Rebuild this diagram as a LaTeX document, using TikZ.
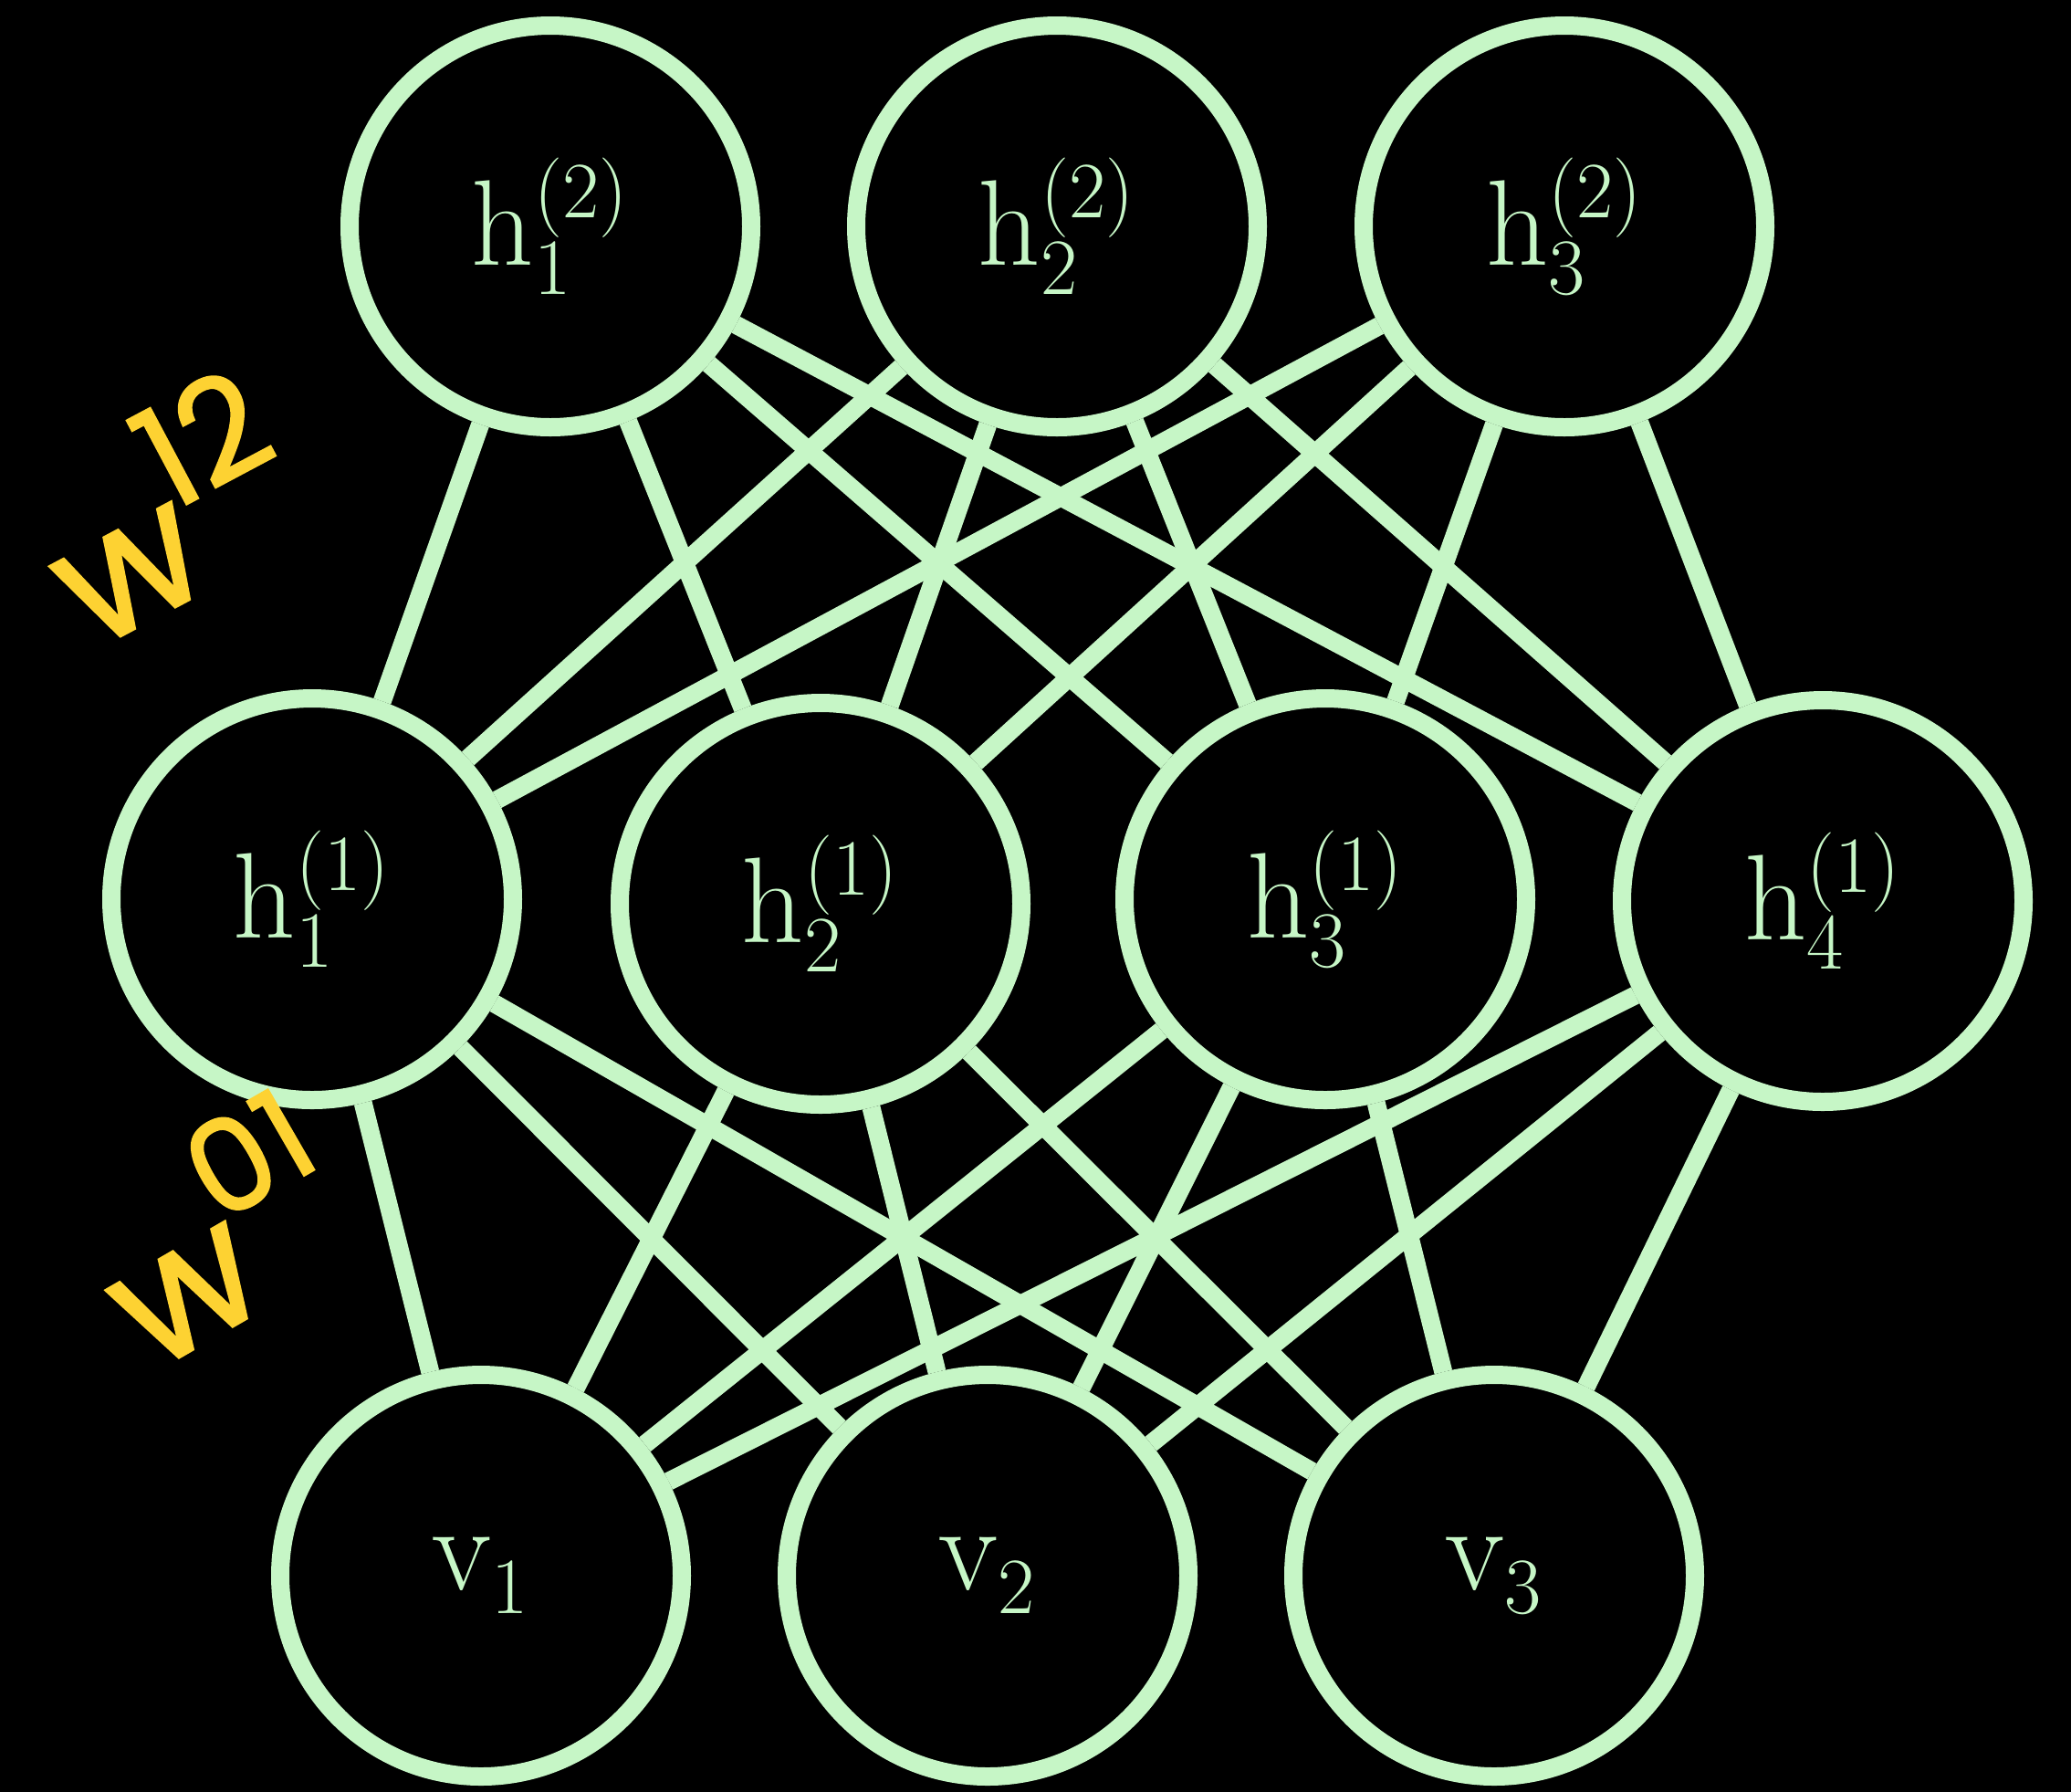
\documentclass[tikz,border=0pt]{standalone}
\usepackage{fontspec}
\newfontfamily\hand[FakeBold=1.5]{Poppins}
\definecolor{nodegreen}{RGB}{198,246,198}
\definecolor{penyellow}{RGB}{253,210,50}
\begin{document}
\begin{tikzpicture}[x=1cm,y=1cm,
  neuron/.style={circle,draw=nodegreen,line width=0.2cm,minimum size=4.4cm,inner sep=0pt,text=nodegreen,font=\fontsize{38}{42}\selectfont},
  link/.style={draw=nodegreen,line width=0.2cm},
  pen/.style={text=penyellow,font=\hand\fontsize{54}{54}\selectfont,inner sep=0pt}]
\useasboundingbox (0,0) rectangle (22.69,-19.62);
\fill[black] (-0.2,0.2) rectangle (22.89,-19.82);
% top layer
\node[neuron] (a1) at (6.03,-2.48) {$\mathrm{h}_1^{(2)}$};
\node[neuron] (a2) at (11.58,-2.48) {$\mathrm{h}_2^{(2)}$};
\node[neuron] (a3) at (17.14,-2.48) {$\mathrm{h}_3^{(2)}$};
% middle layer
\node[neuron] (b1) at (3.42,-9.85) {$\mathrm{h}_1^{(1)}$};
\node[neuron] (b2) at (8.99,-9.90) {$\mathrm{h}_2^{(1)}$};
\node[neuron] (b3) at (14.52,-9.85) {$\mathrm{h}_3^{(1)}$};
\node[neuron] (b4) at (19.97,-9.87) {$\mathrm{h}_4^{(1)}$};
% bottom layer
\node[neuron] (c1) at (5.27,-17.26) {$\mathrm{v}_1$};
\node[neuron] (c2) at (10.82,-17.26) {$\mathrm{v}_2$};
\node[neuron] (c3) at (16.37,-17.26) {$\mathrm{v}_3$};
% connections
\foreach \i in {1,2,3}{
  \foreach \j in {1,2,3,4}{
    \draw[link] (a\i) -- (b\j);
    \draw[link] (c\i) -- (b\j);
  }
}
% handwritten labels
\node[pen,rotate=28] (w12) at (1.78,-5.55) {w\kern-0.05em\raisebox{0.9ex}{\fontsize{44}{44}\selectfont 12}};
\node[pen,rotate=30] (w01) at (2.35,-13.45) {w\kern-0.05em\raisebox{1.0ex}{\fontsize{40}{40}\selectfont 01}};
\end{tikzpicture}
\end{document}
